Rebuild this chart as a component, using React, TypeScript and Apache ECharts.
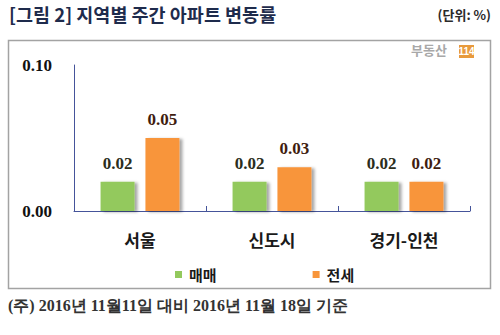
import React, { useEffect, useRef } from "react";
import * as echarts from "echarts";

const categories = ["서울", "신도시", "경기-인천"];
const saleValues = [0.02, 0.02, 0.02];
const jeonseValues = [0.05, 0.03, 0.02];
const seriesNames = ["매매", "전세"];
const yTicks = [0, 0.1];

const titleText = "[그림 2] 지역별 주간 아파트 변동률";
const unitText = "(단위: %)";
const noteText = "(주) 2016년 11월11일 대비 2016년 11월 18일 기준";

const GREEN = "#93c95d";
const ORANGE = "#f8953a";
const KR = "'Noto Sans CJK KR', sans-serif";
const SERIF = "'Liberation Serif', 'DejaVu Serif', serif";

export default function App() {
  const ref = useRef<HTMLDivElement>(null);
  useEffect(() => {
    if (!ref.current) return;
    const chart = echarts.init(ref.current, null, { renderer: "svg" });
    const barShadow = {
      shadowColor: "rgba(0,0,0,0.35)",
      shadowBlur: 3,
      shadowOffsetX: 3,
      shadowOffsetY: 1,
    };
    chart.setOption({
      animation: false,
      backgroundColor: "#ffffff",
      graphic: [
        {
          type: "text",
          left: 9,
          top: 5,
          style: { text: titleText, font: `bold 18.5px ${KR}`, fill: "#1e2b4c" },
        },
        {
          type: "text",
          right: 9,
          top: 8,
          style: { text: unitText, font: `bold 13px ${KR}`, fill: "#2a2a2a" },
        },
        {
          type: "rect",
          shape: { x: 8.5, y: 40.5, width: 482, height: 248 },
          style: { fill: "none", stroke: "#a3a3a3", lineWidth: 1.5 },
          z: -1,
        },
        {
          type: "text",
          left: 411,
          top: 43,
          style: { text: "부동산", font: `bold 13px ${KR}`, fill: "#a8a8a8" },
        },
        {
          type: "rect",
          shape: { x: 459, y: 45, width: 15, height: 13 },
          style: { fill: "#e89a3c" },
        },
        {
          type: "text",
          x: 466.5,
          y: 51.5,
          style: {
            text: "114",
            font: `bold 10px 'Liberation Sans Narrow', 'Liberation Sans', sans-serif`,
            fill: "#ffffff",
            align: "center",
            verticalAlign: "middle",
          },
        },
        {
          type: "text",
          left: 8,
          top: 297,
          style: { text: noteText, font: `bold 16px ${SERIF}`, fill: "#333333" },
        },
      ],
      legend: {
        data: seriesNames,
        left: 175,
        top: 267,
        itemWidth: 7,
        itemHeight: 7,
        itemGap: 96,
        padding: 0,
        icon: "rect",
        textStyle: {
          fontFamily: KR,
          fontWeight: "bold",
          fontSize: 15,
          color: "#1a1a1a",
          padding: [0, 0, 0, 2],
        },
      },
      grid: { left: 74, top: 65, width: 396, height: 146, containLabel: false },
      xAxis: {
        type: "category",
        data: categories,
        axisLine: { show: true, lineStyle: { color: "#45549a", width: 1 } },
        axisTick: { show: true, inside: true, length: 5, lineStyle: { color: "#45549a" } },
        axisLabel: {
          margin: 20,
          fontFamily: KR,
          fontWeight: "bold",
          fontSize: 17,
          color: "#1a1a1a",
        },
      },
      yAxis: {
        type: "value",
        min: yTicks[0],
        max: yTicks[yTicks.length - 1],
        interval: 0.1,
        splitLine: { show: false },
        axisLine: { show: true, lineStyle: { color: "#45549a", width: 1 } },
        axisTick: { show: false },
        axisLabel: {
          margin: 22,
          fontFamily: SERIF,
          fontWeight: "bold",
          fontSize: 17,
          color: "#111111",
          formatter: (v: number) => v.toFixed(2),
        },
      },
      series: [
        {
          name: seriesNames[0],
          type: "bar",
          data: saleValues,
          barWidth: 34,
          barGap: "32%",
          itemStyle: { color: GREEN, ...barShadow },
          label: {
            show: true,
            position: "top",
            distance: 10,
            fontFamily: SERIF,
            fontWeight: "bold",
            fontSize: 17,
            color: "#2b2d1c",
            formatter: (p: any) => Number(p.value).toFixed(2),
          },
        },
        {
          name: seriesNames[1],
          type: "bar",
          data: jeonseValues,
          barWidth: 34,
          itemStyle: { color: ORANGE, ...barShadow },
          label: {
            show: true,
            position: "top",
            distance: 10,
            fontFamily: SERIF,
            fontWeight: "bold",
            fontSize: 17,
            color: "#3f1d10",
            formatter: (p: any) => Number(p.value).toFixed(2),
          },
        },
      ],
    });
    return () => chart.dispose();
  }, []);
  return (
    <div
      ref={ref}
      style={{ position: "absolute", left: 0, top: 0, width: 500, height: 335, background: "#fff" }}
    />
  );
}
